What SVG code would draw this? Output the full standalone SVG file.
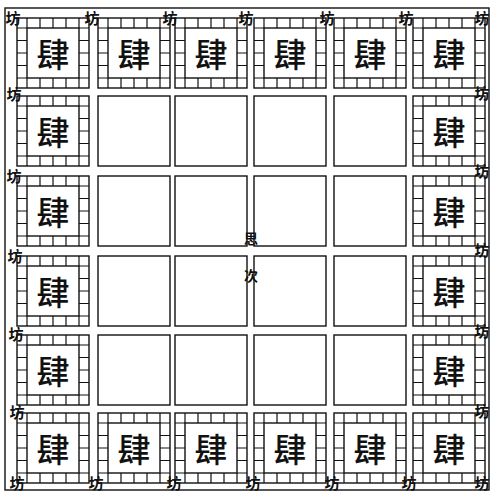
<svg xmlns="http://www.w3.org/2000/svg" xmlns:xlink="http://www.w3.org/1999/xlink" width="494" height="494" viewBox="0 0 494 494">
<style>
.ln{fill:none;stroke:#111;stroke-width:1.4}
.tk{fill:none;stroke:#111;stroke-width:1.2}
.shop{font-family:"Noto Sans CJK SC","Noto Sans CJK TC",sans-serif;font-size:33px;font-weight:500;fill:#111;text-anchor:middle;dominant-baseline:central}
.fang{font-family:"Noto Sans CJK SC","Noto Sans CJK TC",sans-serif;font-size:15px;font-weight:700;fill:#111;text-anchor:middle;dominant-baseline:central}
.ctr{font-family:"Noto Sans CJK SC","Noto Sans CJK TC",sans-serif;font-size:14px;font-weight:700;fill:#111;text-anchor:middle;dominant-baseline:central}
</style>
<defs>
<symbol id="ring" overflow="visible">
<rect class="ln" x="0" y="0" width="72" height="70"/>
<rect class="ln" x="10" y="10" width="52" height="50"/>
<path class="tk" d="M10 0V10M23 0V10M36 0V10M49 0V10M62 0V10M10 60V70M23 60V70M36 60V70M49 60V70M62 60V70M0 10H10M0 22.5H10M0 35H10M0 47.5H10M0 60H10M62 10H72M62 22.5H72M62 35H72M62 47.5H72M62 60H72"/>
</symbol>
<symbol id="plot" overflow="visible">
<rect class="ln" x="0" y="0" width="72" height="70"/>
</symbol>
</defs>
<rect width="494" height="494" fill="#fff"/>
<rect class="ln" x="5" y="8" width="484" height="482"/>
<g id="connectors"/>
<!-- row 1 -->
<g id="r1c1"><use xlink:href="#ring" x="17" y="18"/><text class="shop" x="53" y="53">肆</text></g>
<g id="r1c2"><use xlink:href="#ring" x="98" y="18"/><text class="shop" x="134" y="53">肆</text></g>
<g id="r1c3"><use xlink:href="#ring" x="175" y="18"/><text class="shop" x="211" y="53">肆</text></g>
<g id="r1c4"><use xlink:href="#ring" x="254" y="18"/><text class="shop" x="290" y="53">肆</text></g>
<g id="r1c5"><use xlink:href="#ring" x="334" y="18"/><text class="shop" x="370" y="53">肆</text></g>
<g id="r1c6"><use xlink:href="#ring" x="413" y="18"/><text class="shop" x="449" y="53">肆</text></g>
<!-- row 2 -->
<g id="r2c1"><use xlink:href="#ring" x="17" y="96"/><text class="shop" x="53" y="131">肆</text></g>
<g id="r2c2"><use xlink:href="#plot" x="98" y="96"/></g>
<g id="r2c3"><use xlink:href="#plot" x="175" y="96"/></g>
<g id="r2c4"><use xlink:href="#plot" x="254" y="96"/></g>
<g id="r2c5"><use xlink:href="#plot" x="334" y="96"/></g>
<g id="r2c6"><use xlink:href="#ring" x="413" y="96"/><text class="shop" x="449" y="131">肆</text></g>
<!-- row 3 -->
<g id="r3c1"><use xlink:href="#ring" x="17" y="176"/><text class="shop" x="53" y="211">肆</text></g>
<g id="r3c2"><use xlink:href="#plot" x="98" y="176"/></g>
<g id="r3c3"><use xlink:href="#plot" x="175" y="176"/></g>
<g id="r3c4"><use xlink:href="#plot" x="254" y="176"/></g>
<g id="r3c5"><use xlink:href="#plot" x="334" y="176"/></g>
<g id="r3c6"><use xlink:href="#ring" x="413" y="176"/><text class="shop" x="449" y="211">肆</text></g>
<!-- row 4 -->
<g id="r4c1"><use xlink:href="#ring" x="17" y="256"/><text class="shop" x="53" y="291">肆</text></g>
<g id="r4c2"><use xlink:href="#plot" x="98" y="256"/></g>
<g id="r4c3"><use xlink:href="#plot" x="175" y="256"/></g>
<g id="r4c4"><use xlink:href="#plot" x="254" y="256"/></g>
<g id="r4c5"><use xlink:href="#plot" x="334" y="256"/></g>
<g id="r4c6"><use xlink:href="#ring" x="413" y="256"/><text class="shop" x="449" y="291">肆</text></g>
<!-- row 5 -->
<g id="r5c1"><use xlink:href="#ring" x="17" y="335"/><text class="shop" x="53" y="370">肆</text></g>
<g id="r5c2"><use xlink:href="#plot" x="98" y="335"/></g>
<g id="r5c3"><use xlink:href="#plot" x="175" y="335"/></g>
<g id="r5c4"><use xlink:href="#plot" x="254" y="335"/></g>
<g id="r5c5"><use xlink:href="#plot" x="334" y="335"/></g>
<g id="r5c6"><use xlink:href="#ring" x="413" y="335"/><text class="shop" x="449" y="370">肆</text></g>
<!-- row 6 -->
<g id="r6c1"><use xlink:href="#ring" x="17" y="413"/><text class="shop" x="53" y="448">肆</text></g>
<g id="r6c2"><use xlink:href="#ring" x="98" y="413"/><text class="shop" x="134" y="448">肆</text></g>
<g id="r6c3"><use xlink:href="#ring" x="175" y="413"/><text class="shop" x="211" y="448">肆</text></g>
<g id="r6c4"><use xlink:href="#ring" x="254" y="413"/><text class="shop" x="290" y="448">肆</text></g>
<g id="r6c5"><use xlink:href="#ring" x="334" y="413"/><text class="shop" x="370" y="448">肆</text></g>
<g id="r6c6"><use xlink:href="#ring" x="413" y="413"/><text class="shop" x="449" y="448">肆</text></g>
<!-- fang labels -->
<g id="fang">
<text class="fang" x="13" y="17">坊</text>
<text class="fang" x="92" y="17">坊</text>
<text class="fang" x="170" y="17">坊</text>
<text class="fang" x="246" y="17">坊</text>
<text class="fang" x="327" y="17">坊</text>
<text class="fang" x="406" y="17">坊</text>
<text class="fang" x="482" y="17">坊</text>
<text class="fang" x="14" y="93">坊</text>
<text class="fang" x="14" y="175">坊</text>
<text class="fang" x="15" y="255">坊</text>
<text class="fang" x="16" y="333">坊</text>
<text class="fang" x="17" y="411">坊</text>
<text class="fang" x="17" y="482">坊</text>
<text class="fang" x="96" y="482">坊</text>
<text class="fang" x="174" y="482">坊</text>
<text class="fang" x="253" y="482">坊</text>
<text class="fang" x="332" y="482">坊</text>
<text class="fang" x="409" y="482">坊</text>
<text class="fang" x="482" y="482">坊</text>
<text class="fang" x="482" y="92">坊</text>
<text class="fang" x="482" y="170">坊</text>
<text class="fang" x="482" y="249">坊</text>
<text class="fang" x="482" y="330">坊</text>
<text class="fang" x="482" y="410">坊</text>
</g>
<g id="sici">
<text class="ctr" x="251" y="238">思</text>
<text class="ctr" x="251" y="275">次</text>
</g>
</svg>
